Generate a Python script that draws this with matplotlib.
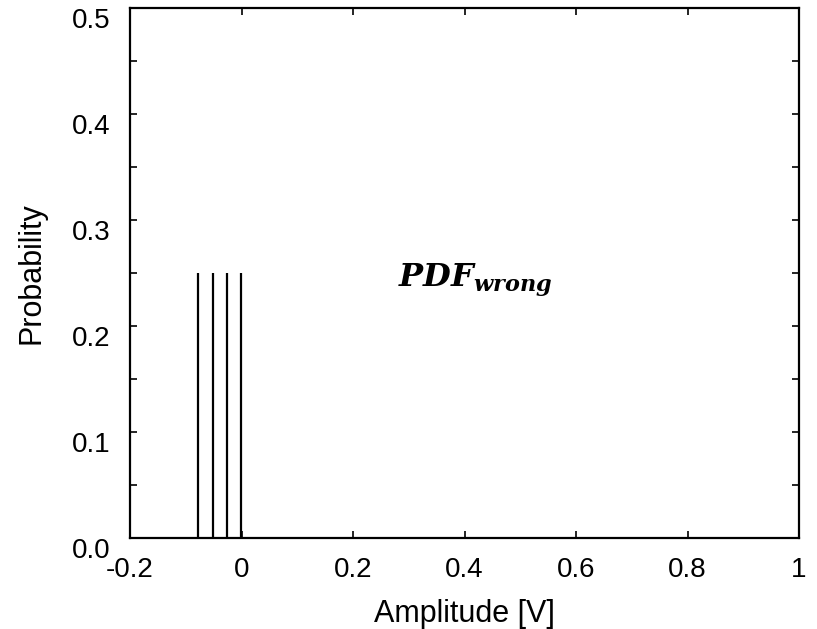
import matplotlib
matplotlib.use('Agg')
import matplotlib.pyplot as plt
import matplotlib.transforms as mtransforms
import numpy as np

# stem positions [V] and probabilities
amplitudes = [-0.078, -0.052, -0.026, -0.001]
probabilities = [0.25, 0.25, 0.25, 0.25]
xticks = [-0.2, 0, 0.2, 0.4, 0.6, 0.8, 1]
xticklabels = ['-0.2', '0', '0.2', '0.4', '0.6', '0.8', '1']
yticks = [0.0, 0.1, 0.2, 0.3, 0.4, 0.5]

plt.rcParams['font.family'] = ['Liberation Sans', 'DejaVu Sans']

fig = plt.figure(figsize=(8.17, 6.29), dpi=100)
ax = fig.add_axes([130/817, 1 - 538/629, (799-130)/817, (538-8)/629])

ax.vlines(amplitudes, 0, probabilities, colors='black', linewidth=1.6)

ax.set_xlim(-0.2, 1)
ax.set_ylim(0, 0.5)
ax.set_xticks(xticks)
ax.set_xticklabels(xticklabels)
ax.set_yticks(yticks)
ax.set_yticklabels(['%.1f' % v for v in yticks])
ax.set_yticks(np.arange(0.05, 0.5, 0.1), minor=True)

ax.tick_params(which='both', direction='in', top=True, right=True, labelsize=20, width=1.2, length=5)
ax.tick_params(axis='x', which='major', pad=14)
ax.tick_params(axis='y', which='major', pad=14)
for s in ax.spines.values():
    s.set_linewidth(1.6)

# y tick labels sit a bit below their ticks in the original
shift = mtransforms.ScaledTranslation(0, -10/100, fig.dpi_scale_trans)
for lab in ax.get_yticklabels():
    lab.set_transform(lab.get_transform() + shift)

ax.set_xlabel('Amplitude [V]', fontsize=22, labelpad=11)
ax.set_ylabel('Probability', fontsize=22, labelpad=18)

ax.text(0.42, 0.243, r'$\mathbfit{PDF}_{\mathbfit{wrong}}$', fontsize=23,
        ha='center', va='center', math_fontfamily='dejavuserif')

fig.savefig('out.png', dpi=100)
